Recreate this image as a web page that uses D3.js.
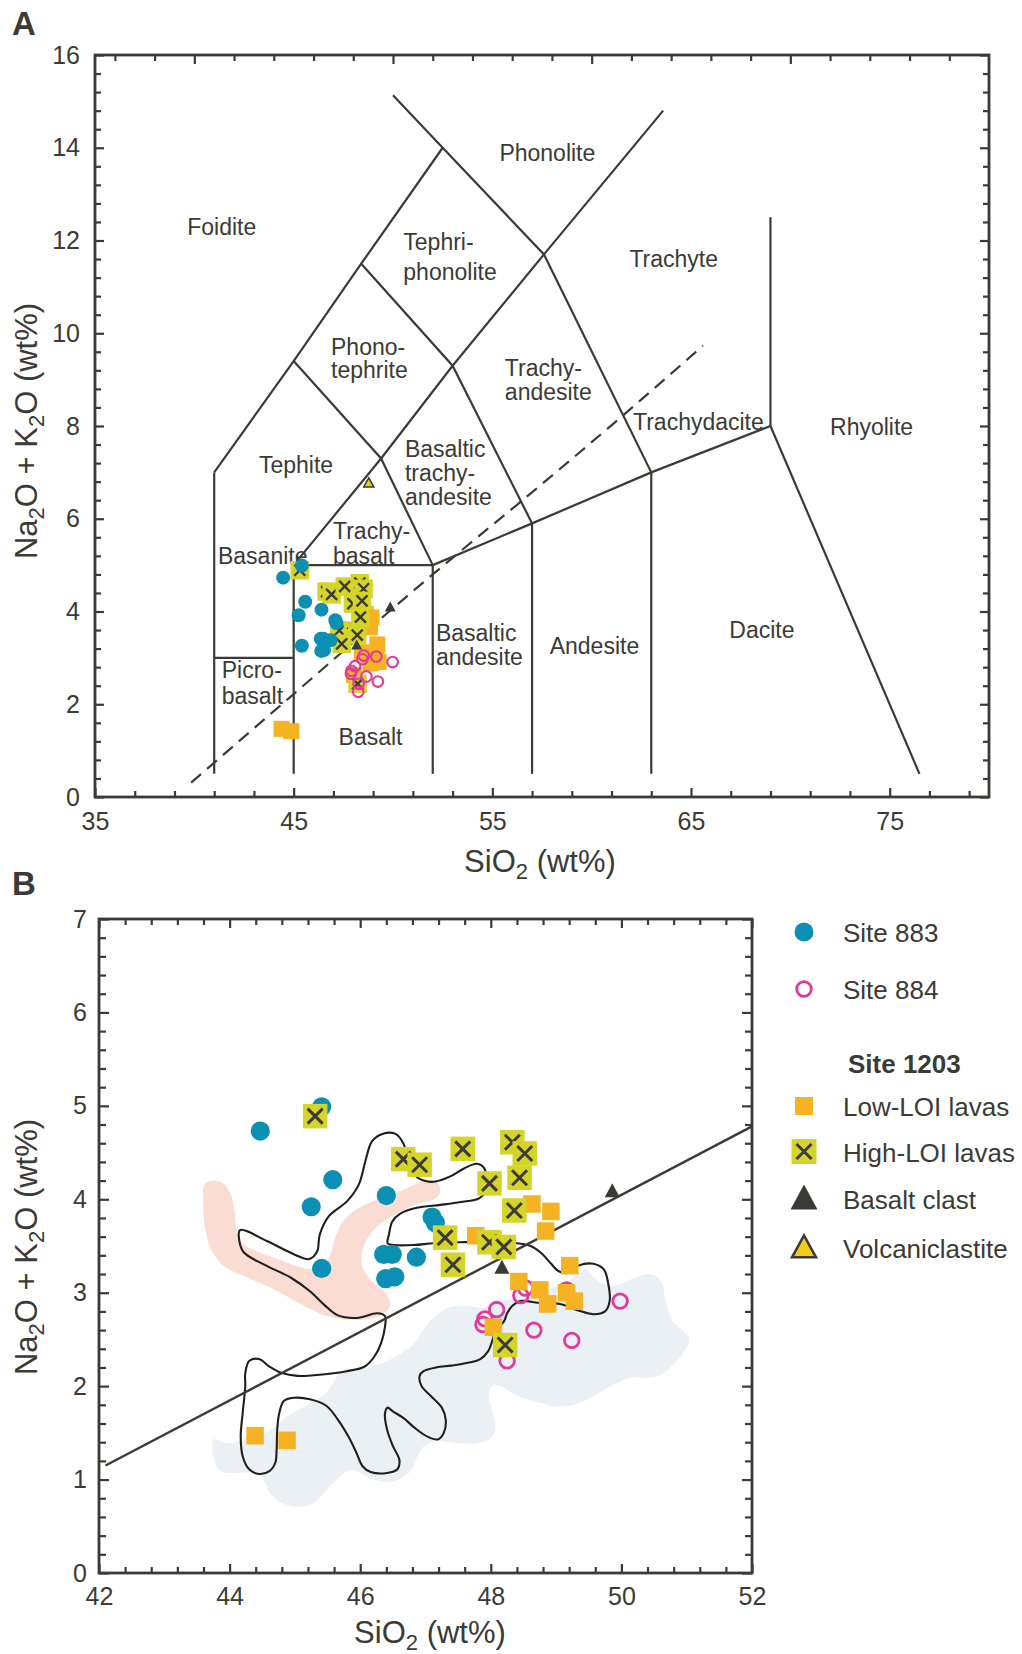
<!DOCTYPE html>
<html>
<head>
<meta charset="utf-8">
<script src="https://cdn.jsdelivr.net/npm/d3@7"></script>
<style>
  body { margin: 0; background: #ffffff; }
  svg text { font-family: "Liberation Sans", Arial, Helvetica, sans-serif; fill: #3b3b35; }
</style>
</head>
<body>
<svg id="fig" width="1022" height="1654"></svg>
<script>
// ---------------- data (SiO2 wt%, Na2O+K2O wt%) ----------------
const site883 = [[44.47,4.73],[45.41,4.99],[45.58,4.21],[45.25,3.92],[45.41,3.26],[46.40,4.04],
  [47.10,3.81],[47.15,3.75],[46.36,3.41],[46.49,3.41],[46.86,3.38],[46.39,3.15],[46.53,3.17]];
const site884 = [[49.98,2.91],[48.66,2.60],[49.24,2.49],[48.09,2.82],[47.91,2.72],[47.88,2.66],
  [48.46,2.97],[48.53,3.05],[49.16,3.03],[48.27,2.44],[48.25,2.27]];
const lowLOI = [[48.63,3.95],[48.92,3.87],[48.84,3.66],[47.77,3.61],[49.21,3.29],[48.43,3.12],
  [48.75,3.03],[48.87,2.88],[49.16,3.00],[49.28,2.91],[48.04,2.63],[44.39,1.47],[44.88,1.42]];
const highLOI = [[45.31,4.89],[46.66,4.43],[46.91,4.37],[47.57,4.54],[48.33,4.61],[48.52,4.49],
  [47.98,4.17],[48.44,4.23],[48.36,3.88],[47.30,3.59],[47.98,3.54],[48.20,3.49],[47.42,3.30],[48.22,2.44]];
const basaltClast = [[49.86,4.08],[48.17,3.26]];
const volcaniclastite = [[48.78,6.76]];

// TAS classification boundaries (Le Bas et al., 1986)
const tasLines = [
  [[41,0.5],[41,7]],
  [[41,3],[45,3]],
  [[45,0.5],[45,5]],
  [[45,5],[52,5]],
  [[52,0.5],[52,5]],
  [[57,0.5],[57,5.9]],
  [[63,0.5],[63,7]],
  [[52,5],[57,5.9],[63,7],[69,8]],
  [[69,12.5],[69,8],[76.5,0.5]],
  [[41,7],[45,9.4],[48.4,11.5],[52.5,14]],
  [[50,15.13],[52.5,14],[57.6,11.7],[63,7]],
  [[45,5],[49.4,7.3],[53,9.3],[57.6,11.7],[63.6,14.8]],
  [[45,9.4],[49.4,7.3],[52,5]],
  [[48.4,11.5],[53,9.3],[57,5.9]]
];
// alkaline / subalkaline divide
const alkalineDivideA = [[39.84,0.31],[45,2.22],[52,4.8],[57.5,6.75],[61.5,8.2],[65.6,9.73]];
const alkalineDivideB = [[42.1,1.15],[52,4.78]];

const fieldNames = ["Foidite","Phonolite","Tephri-","phonolite","Trachyte","Phono-","tephrite",
  "Trachy-","andesite","Tephite","Basaltic","trachy-","andesite","Trachydacite","Rhyolite",
  "Trachy-","basalt","Basanite","Basaltic","andesite","Andesite","Dacite","Picro-","basalt","Basalt"];
const fieldNameSi = [41.38,57.77,50.52,50.52,64.13,46.88,46.88,55.63,55.63,45.12,50.60,50.60,50.60,
  62.08,74.09,46.98,46.98,41.19,52.16,52.16,60.14,68.57,41.38,41.38,48.87];
const fieldNameAlk = [12.12,13.71,11.80,11.15,11.43,9.53,9.04,9.08,8.56,6.99,7.33,6.81,6.30,
  7.91,7.81,5.56,5.02,5.02,3.36,2.85,3.08,3.43,2.56,2.01,1.12];
const fieldNameCentered = [1,1,0,0,1,0,0,0,0,1,0,0,0,0,1,0,0,0,0,0,1,1,0,0,1];

// comparison fields, panel B
const fieldPink = [[43.62,4.16],[43.76,4.20],[43.92,4.16],[44.03,4.03],[44.08,3.84],[44.11,3.66],
  [44.20,3.53],[44.43,3.44],[44.78,3.35],[45.09,3.27],[45.34,3.26],[45.52,3.37],[45.62,3.59],
  [45.75,3.78],[45.96,3.90],[46.31,4.01],[46.62,4.09],[46.87,4.17],[47.08,4.21],[47.20,4.16],
  [47.22,4.07],[47.13,4.00],[46.87,3.95],[46.57,3.85],[46.31,3.74],[46.15,3.62],[46.03,3.44],
  [46.04,3.26],[46.20,3.11],[46.40,2.99],[46.46,2.88],[46.39,2.79],[46.16,2.72],[45.80,2.71],
  [45.45,2.76],[45.14,2.86],[44.70,3.03],[44.25,3.17],[43.92,3.28],[43.72,3.46],[43.62,3.70],[43.60,3.90]];
const fieldBlue = [[43.76,1.43],[43.97,1.39],[44.27,1.44],[44.63,1.53],[44.89,1.68],[45.14,1.78],
  [45.45,1.91],[45.60,2.05],[45.70,2.16],[46.06,2.19],[46.41,2.27],[46.67,2.37],[46.85,2.48],
  [46.98,2.62],[47.15,2.75],[47.36,2.84],[47.64,2.86],[47.84,2.84],[48.05,2.88],[48.30,2.94],
  [48.66,3.01],[49.06,3.08],[49.32,3.19],[49.45,3.26],[49.57,3.17],[49.73,3.09],[49.93,3.08],
  [50.13,3.14],[50.34,3.19],[50.52,3.18],[50.62,3.10],[50.68,2.90],[50.78,2.70],[50.95,2.59],
  [51.04,2.50],[50.97,2.38],[50.78,2.22],[50.54,2.10],[50.13,2.09],[49.98,2.05],[49.78,1.98],
  [49.52,1.87],[49.27,1.80],[49.01,1.78],[48.76,1.82],[48.50,1.87],[48.30,1.94],[48.15,2.00],
  [48.02,2.01],[47.97,1.91],[48.02,1.73],[48.07,1.55],[47.99,1.44],[47.79,1.39],[47.49,1.39],
  [47.18,1.41],[46.98,1.36],[46.87,1.23],[46.77,1.09],[46.50,0.98],[46.20,1.00],[45.85,1.10],
  [45.54,0.93],[45.29,0.75],[45.04,0.71],[44.80,0.75],[44.61,0.86],[44.55,0.96],[44.42,1.07],
  [44.11,1.07],[43.86,1.09],[43.76,1.21]];
const fieldOutline = [[44.16,3.67],[44.58,3.55],[44.99,3.41],[45.22,3.36],[45.34,3.44],[45.38,3.62],
  [45.52,3.82],[45.80,3.98],[45.98,4.16],[46.08,4.41],[46.18,4.62],[46.34,4.70],[46.54,4.70],
  [46.66,4.60],[46.74,4.40],[46.85,4.25],[47.03,4.19],[47.15,4.19],[47.38,4.245],[47.59,4.33],
  [47.79,4.38],[47.90,4.33],[47.94,4.19],[47.92,4.085],[47.82,4.01],[47.54,3.97],[47.23,3.94],
  [46.87,3.91],[46.62,3.85],[46.49,3.76],[46.44,3.62],[46.42,3.53],[46.52,3.51],[46.82,3.51],
  [47.13,3.53],[47.54,3.54],[47.94,3.55],[48.40,3.53],[48.61,3.50],[48.78,3.42],[48.91,3.32],
  [49.04,3.23],[49.17,3.21],[49.34,3.29],[49.57,3.31],[49.73,3.25],[49.80,3.09],[49.82,2.91],
  [49.75,2.80],[49.57,2.77],[49.34,2.81],[49.06,2.88],[48.76,2.89],[48.45,2.91],[48.33,2.86],
  [48.25,2.78],[48.20,2.69],[48.09,2.61],[47.96,2.375],[47.84,2.29],[47.65,2.25],[47.40,2.22],
  [47.16,2.20],[46.97,2.16],[46.91,2.11],[46.94,2.00],[47.09,1.89],[47.25,1.77],[47.31,1.64],
  [47.28,1.50],[47.19,1.43],[47.03,1.46],[46.84,1.55],[46.66,1.66],[46.50,1.73],[46.42,1.77],
  [46.38,1.71],[46.41,1.54],[46.50,1.36],[46.60,1.21],[46.57,1.11],[46.41,1.07],[46.16,1.08],
  [46.04,1.14],[45.94,1.29],[45.82,1.46],[45.66,1.64],[45.48,1.79],[45.23,1.86],[44.98,1.875],
  [44.83,1.84],[44.76,1.71],[44.73,1.54],[44.72,1.32],[44.70,1.18],[44.61,1.09],[44.45,1.06],
  [44.30,1.11],[44.20,1.25],[44.17,1.46],[44.20,1.71],[44.24,2.00],[44.24,2.14],[44.30,2.27],
  [44.45,2.29],[44.61,2.21],[44.80,2.14],[45.04,2.11],[45.42,2.125],[45.79,2.16],[46.07,2.21],
  [46.22,2.32],[46.32,2.46],[46.38,2.64],[46.38,2.75],[46.26,2.78],[45.95,2.73],[45.65,2.76],
  [45.45,2.87],[45.24,3.01],[44.94,3.16],[44.53,3.30],[44.22,3.43],[44.15,3.55]];

const legendLabels = ["Site 883","Site 884","Low-LOI lavas","High-LOI lavas","Basalt clast","Volcaniclastite"];
const legendGroupTitle = "Site 1203";

// ---------------- styling ----------------
const ink = "#3b3b35";
const FONT = '"Liberation Sans", Arial, Helvetica, sans-serif';
const C883 = "#0b8fb3", C884 = "#e23a9b", CLOW = "#f5b223", CHIGH = "#d5d42a", CVOLC = "#f3cb1d";
const FILL_PINK = "#fbdcd3", FILL_BLUE = "#eaf0f3";

const svg = d3.select("#fig");

// ---------------- scales ----------------
const xA = d3.scaleLinear().domain([35, 80]).range([95, 989]);
const yA = d3.scaleLinear().domain([0, 16]).range([797, 55]);
const xB = d3.scaleLinear().domain([42, 52]).range([99, 752]);
const yB = d3.scaleLinear().domain([0, 7]).range([1573, 919]);

function stepValues(lo, hi, step) {
  const n = Math.round((hi - lo) / step);
  return d3.range(n + 1).map(i => +(lo + i * step).toFixed(4));
}

function tickLayer(g, axisFn, scale, values, len, transform, withLabels, pad) {
  const ax = axisFn(scale).tickValues(values).tickSize(-len).tickPadding(pad || 0);
  ax.tickFormat(withLabels ? d3.format("d") : () => "");
  const sel = g.append("g").attr("transform", transform).call(ax);
  sel.select(".domain").remove();
  sel.selectAll("line").attr("stroke", ink).attr("stroke-width", 2.2);
  sel.selectAll("text").attr("fill", ink).style("font-size", "25px").style("font-family", FONT);
  return sel;
}

function frame(g, x, y) {
  const [x0, x1] = x.range(), [y0, y1] = y.range();
  g.append("rect").attr("x", x0).attr("y", y1).attr("width", x1 - x0).attr("height", y0 - y1)
    .attr("fill", "none").attr("stroke", ink).attr("stroke-width", 2.8);
}

function subTitle(g, parts, attrs) {
  const t = g.append("text").attr("text-anchor", "middle").style("font-size", "31px");
  Object.entries(attrs).forEach(([k, v]) => t.attr(k, v));
  let shifted = false;
  parts.forEach(p => {
    const sp = t.append("tspan").text(p.t);
    if (p.sub) { sp.attr("dy", 7).style("font-size", "22px"); shifted = true; }
    else if (shifted) { sp.attr("dy", -7); shifted = false; }
  });
  return t;
}
const alkTitle = [{t:"Na"},{t:"2",sub:1},{t:"O + K"},{t:"2",sub:1},{t:"O (wt%)"}];
const siTitle = [{t:"SiO"},{t:"2",sub:1},{t:" (wt%)"}];

// marker painters
function triPath(cx, cy, w, h) {
  return `M${cx},${cy - h * 0.62} L${cx + w / 2},${cy + h * 0.38} L${cx - w / 2},${cy + h * 0.38} Z`;
}
function drawCircles(g, pts, x, y, r, fill) {
  g.selectAll(null).data(pts).join("circle")
    .attr("cx", d => x(d[0])).attr("cy", d => y(d[1])).attr("r", r).attr("fill", fill);
}
function drawRings(g, pts, x, y, r, sw) {
  g.selectAll(null).data(pts).join("circle")
    .attr("cx", d => x(d[0])).attr("cy", d => y(d[1])).attr("r", r)
    .attr("fill", "none").attr("stroke", C884).attr("stroke-width", sw);
}
function drawSquares(g, pts, x, y, s, fill) {
  g.selectAll(null).data(pts).join("rect")
    .attr("x", d => x(d[0]) - s / 2).attr("y", d => y(d[1]) - s / 2)
    .attr("width", s).attr("height", s).attr("fill", fill);
}
function drawCrossSquares(g, pts, x, y, s, h, sw) {
  const grp = g.selectAll(null).data(pts).join("g")
    .attr("transform", d => `translate(${x(d[0])},${y(d[1])})`);
  grp.append("rect").attr("x", -s / 2).attr("y", -s / 2).attr("width", s).attr("height", s).attr("fill", CHIGH);
  grp.append("path").attr("d", `M${-h},${-h}L${h},${h}M${h},${-h}L${-h},${h}`)
    .attr("stroke", ink).attr("stroke-width", sw).attr("fill", "none");
}
function drawTriangles(g, pts, x, y, w, h, fill, stroke) {
  g.selectAll(null).data(pts).join("path")
    .attr("d", d => triPath(x(d[0]), y(d[1]), w, h))
    .attr("fill", fill).attr("stroke", stroke || "none").attr("stroke-width", stroke ? 1.6 : 0)
    .attr("stroke-linejoin", "miter");
}

// ======================= PANEL A =======================
const gA = svg.append("g");
gA.append("text").attr("x", 12).attr("y", 35).style("font-size", "33px").style("font-weight", "bold").text("A");

// boundaries
const lineA = d3.line().x(d => xA(d[0])).y(d => yA(d[1]));
gA.append("g").selectAll("path").data(tasLines).join("path")
  .attr("d", lineA).attr("fill", "none").attr("stroke", ink).attr("stroke-width", 2.2)
  .attr("stroke-linejoin", "miter");
gA.append("path").attr("d", lineA.curve(d3.curveMonotoneX)(alkalineDivideA))
  .attr("fill", "none").attr("stroke", ink).attr("stroke-width", 2.2).attr("stroke-dasharray", "13,8");

// field names
gA.append("g").selectAll("text").data(fieldNames).join("text")
  .attr("x", (d, i) => xA(fieldNameSi[i])).attr("y", (d, i) => yA(fieldNameAlk[i]))
  .attr("text-anchor", (d, i) => fieldNameCentered[i] ? "middle" : "start")
  .style("font-size", "23px").text(d => d);

// frame and ticks
frame(gA, xA, yA);
const aYmaj = stepValues(0, 16, 2), aYmin = stepValues(0, 16, 0.4).filter(v => v % 2 !== 0);
tickLayer(gA, d3.axisLeft, yA, aYmaj, 9, `translate(${xA(35)},0)`, true, 15);
tickLayer(gA, d3.axisLeft, yA, aYmin, 6, `translate(${xA(35)},0)`, false);
tickLayer(gA, d3.axisRight, yA, aYmaj, 9, `translate(${xA(80)},0)`, false);
tickLayer(gA, d3.axisRight, yA, aYmin, 6, `translate(${xA(80)},0)`, false);
tickLayer(gA, d3.axisBottom, xA, [35,45,55,65,75], 9, `translate(0,${yA(0)})`, true, 15);
tickLayer(gA, d3.axisBottom, xA, stepValues(37, 79, 2).filter(v => (v - 35) % 10 !== 0), 6, `translate(0,${yA(0)})`, false);
tickLayer(gA, d3.axisTop, xA, [40,50,60,70], 9, `translate(0,${yA(16)})`, false);
tickLayer(gA, d3.axisTop, xA, stepValues(36, 78, 2).filter(v => v % 10 !== 0), 6, `translate(0,${yA(16)})`, false);

subTitle(gA, siTitle, { x: 540, y: 872 });
subTitle(gA, alkTitle, { transform: "translate(37,431) rotate(-90)" });

// samples
const mA = gA.append("g");
drawSquares(mA, lowLOI, xA, yA, 16, CLOW);
drawCrossSquares(mA, highLOI, xA, yA, 18.5, 5.5, 2.4);
drawCircles(mA, site883, xA, yA, 7, C883);
drawRings(mA, site884, xA, yA, 5.3, 2.1);
drawTriangles(mA, basaltClast, xA, yA, 11, 10, ink);
drawTriangles(mA, volcaniclastite, xA, yA, 10, 9, CVOLC, ink);

// ======================= PANEL B =======================
const gB = svg.append("g");
gB.append("text").attr("x", 12).attr("y", 895).style("font-size", "33px").style("font-weight", "bold").text("B");

const lineB = d3.line().x(d => xB(d[0])).y(d => yB(d[1]));
const closedB = d3.line().x(d => xB(d[0])).y(d => yB(d[1])).curve(d3.curveCatmullRomClosed.alpha(0.5));

gB.append("path").attr("d", closedB(fieldBlue)).attr("fill", FILL_BLUE);
gB.append("path").attr("d", closedB(fieldPink)).attr("fill", FILL_PINK);
gB.append("path").attr("d", closedB(fieldOutline)).attr("fill", "none").attr("stroke", "#1f1f1c").attr("stroke-width", 2.1);
gB.append("path").attr("d", lineB(alkalineDivideB)).attr("fill", "none").attr("stroke", ink).attr("stroke-width", 2.4);

frame(gB, xB, yB);
const bYmaj = stepValues(0, 7, 1), bYmin = stepValues(0, 7, 0.2).filter(v => Math.abs(v - Math.round(v)) > 1e-6);
const bXmaj = stepValues(42, 52, 2), bXmin = stepValues(42, 52, 0.4).filter(v => Math.abs(v / 2 - Math.round(v / 2)) > 1e-6);
tickLayer(gB, d3.axisLeft, yB, bYmaj, 10, `translate(${xB(42)},0)`, true, 12);
tickLayer(gB, d3.axisLeft, yB, bYmin, 7, `translate(${xB(42)},0)`, false);
tickLayer(gB, d3.axisRight, yB, bYmaj, 10, `translate(${xB(52)},0)`, false);
tickLayer(gB, d3.axisRight, yB, bYmin, 7, `translate(${xB(52)},0)`, false);
tickLayer(gB, d3.axisBottom, xB, bXmaj, 9, `translate(0,${yB(0)})`, true, 14);
tickLayer(gB, d3.axisBottom, xB, bXmin, 6, `translate(0,${yB(0)})`, false);
tickLayer(gB, d3.axisTop, xB, bXmaj, 9, `translate(0,${yB(7)})`, false);
tickLayer(gB, d3.axisTop, xB, bXmin, 6, `translate(0,${yB(7)})`, false);

subTitle(gB, siTitle, { x: 430, y: 1643 });
subTitle(gB, alkTitle, { transform: "translate(37,1247) rotate(-90)" });

const mB = gB.append("g");
drawRings(mB, site884, xB, yB, 7.3, 2.8);
drawCircles(mB, site883, xB, yB, 9.6, C883);
drawSquares(mB, lowLOI, xB, yB, 17.5, CLOW);
drawCrossSquares(mB, highLOI, xB, yB, 24.5, 7.5, 3);
drawTriangles(mB, basaltClast, xB, yB, 15, 14, ink);

// ---------------- legend ----------------
const lg = svg.append("g").style("font-size", "26px");
const lx = 804, tx = 843;
const rowY = [932, 989, 1106, 1151.5, 1199, 1248];
lg.append("circle").attr("cx", lx).attr("cy", rowY[0]).attr("r", 9.5).attr("fill", C883);
lg.append("circle").attr("cx", lx).attr("cy", rowY[1]).attr("r", 7.3).attr("fill", "none")
  .attr("stroke", C884).attr("stroke-width", 2.8);
lg.append("text").attr("x", 848).attr("y", 1073).style("font-weight", "bold").text(legendGroupTitle);
lg.append("rect").attr("x", lx - 9).attr("y", rowY[2] - 9).attr("width", 18).attr("height", 18).attr("fill", CLOW);
lg.append("rect").attr("x", lx - 12.5).attr("y", rowY[3] - 12.5).attr("width", 25).attr("height", 25).attr("fill", CHIGH);
lg.append("path").attr("d", `M${lx - 7.5},${rowY[3] - 7.5}L${lx + 7.5},${rowY[3] + 7.5}M${lx + 7.5},${rowY[3] - 7.5}L${lx - 7.5},${rowY[3] + 7.5}`)
  .attr("stroke", ink).attr("stroke-width", 3);
lg.append("path").attr("d", triPath(lx, rowY[4] + 1, 27, 25)).attr("fill", ink);
lg.append("path").attr("d", triPath(lx, rowY[5] + 1, 24, 22)).attr("fill", CVOLC)
  .attr("stroke", ink).attr("stroke-width", 2.5);
lg.selectAll(null).data(legendLabels).join("text")
  .attr("x", tx).attr("y", (d, i) => rowY[i] + 10).text(d => d);
</script>
</body>
</html>
